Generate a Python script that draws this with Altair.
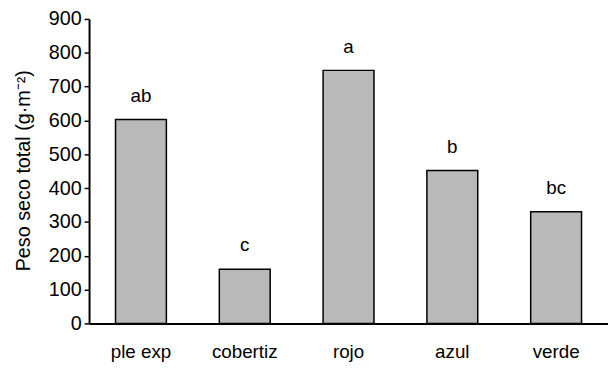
import altair as alt
import pandas as pd

categories = ["ple exp", "cobertiz", "rojo", "azul", "verde"]
values = [603, 160, 748, 452, 330]
letters = ["ab", "c", "a", "b", "bc"]
y_ticks = [0, 100, 200, 300, 400, 500, 600, 700, 800, 900]

df = pd.DataFrame({"cat": categories, "val": values, "lab": letters})

FONT = "Liberation Sans"

x = alt.X("cat:N", sort=categories, title=None,
          scale=alt.Scale(paddingInner=0.51, paddingOuter=0.255),
          axis=alt.Axis(labelAngle=0, ticks=False))
y = alt.Y("val:Q", title="Peso seco total (g·m⁻²)",
          scale=alt.Scale(domain=[0, 900]),
          axis=alt.Axis(values=y_ticks, grid=False, labelOverlap=False))

base = alt.Chart(df).encode(x=x, y=y)
bars = base.mark_bar(fill="#b9b9b9", stroke="black", strokeWidth=1.5)
text = base.mark_text(baseline="bottom", dy=-14, fontSize=19, font=FONT, color="black").encode(text="lab:N")

chart = (bars + text).properties(
    width=525, height=308,
    autosize=alt.AutoSizeParams(type="none"),
    padding={"left": 82, "top": 9, "right": 0, "bottom": 40},
).configure_view(stroke=None).configure_axisX(
    labelPadding=19, labelFontSize=19, labelFont=FONT, labelColor="black",
    domainColor="black", domainWidth=2, ticks=False,
).configure_axisY(
    tickSize=5, tickColor="black", tickWidth=1.5,
    labelPadding=3, labelFontSize=20, labelFont=FONT,
    labelColor="black", domainColor="black", domainWidth=2,
    titleFont=FONT, titleFontSize=20, titleFontWeight="normal",
    titleColor="black", titleX=-66, titleY=153,
    titleAngle=-90, titleAlign="center", titleBaseline="middle",
)

chart.save("out.html", embed_options={"renderer": "svg", "actions": False})
